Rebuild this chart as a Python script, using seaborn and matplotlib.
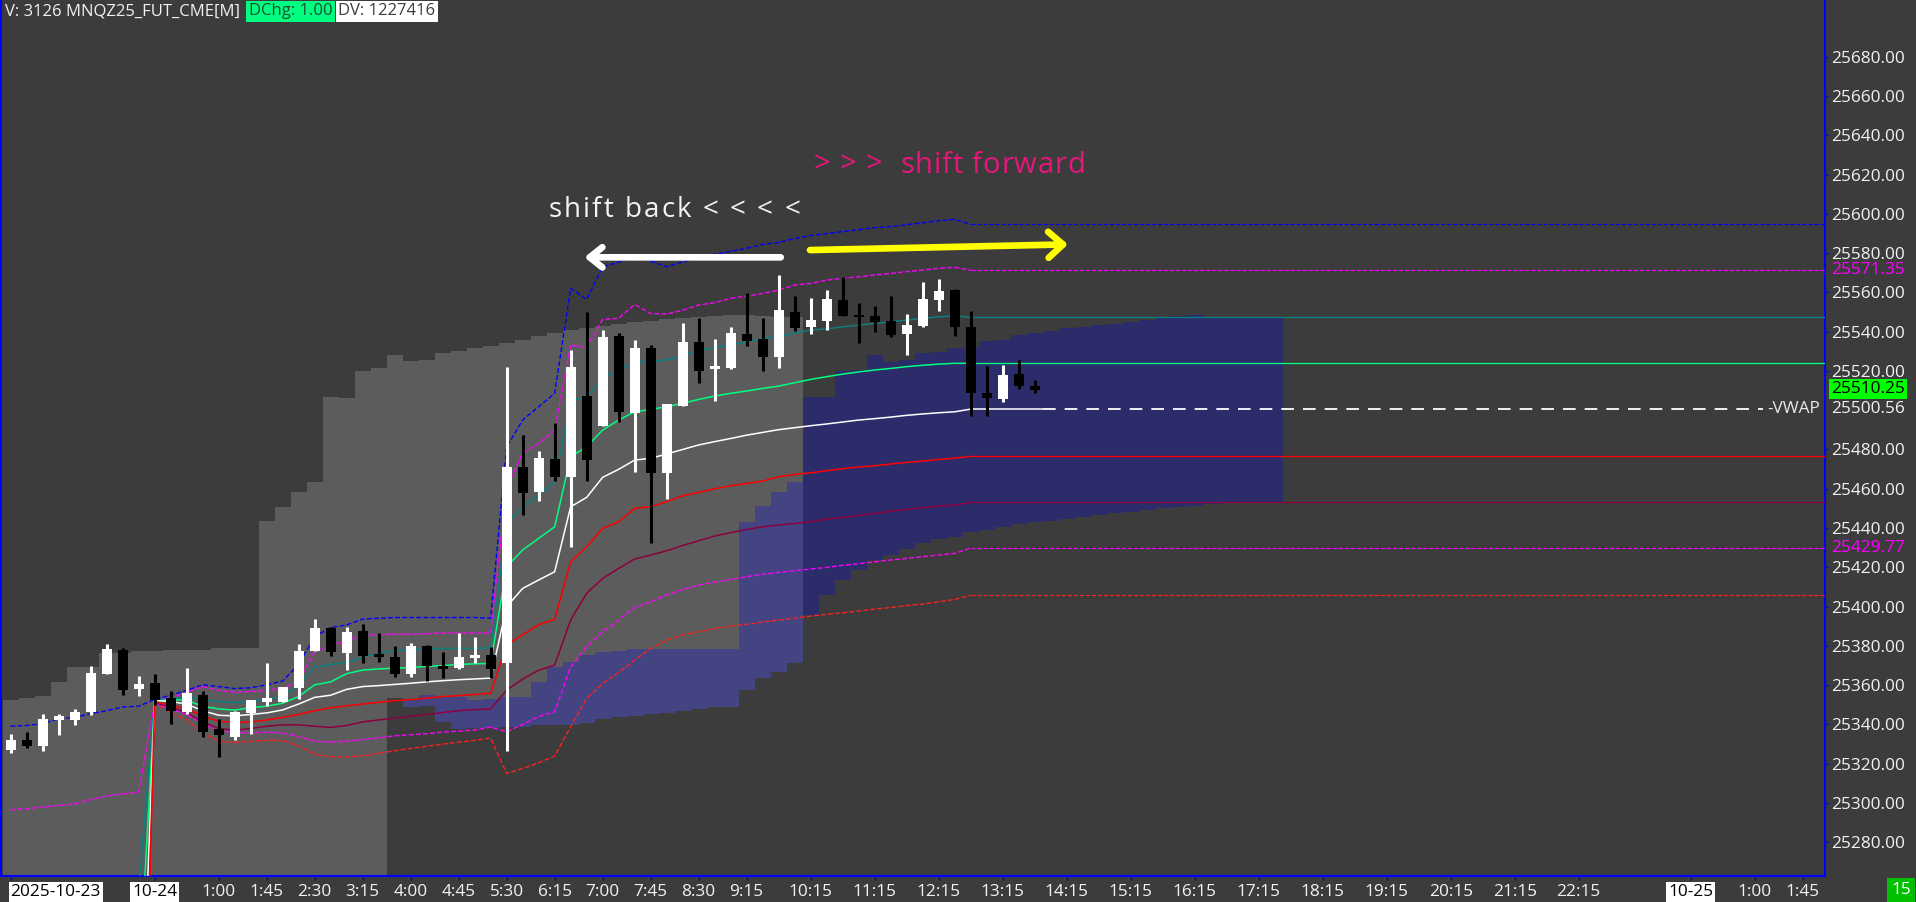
import numpy as np
import matplotlib
matplotlib.use("Agg")
import matplotlib.pyplot as plt
from matplotlib import font_manager
from matplotlib.ft2font import FT2Font
import seaborn as sns

# --- 15 minute bars, index 0 = 21:45 on 2025-10-23 ---
opens = [25327.1, 25331.8, 25329.0, 25342.2, 25342.2, 25346.0, 25365.8, 25378.0, 25357.8, 25361.0,
         25353.5, 25346.5, 25354.8, 25337.5, 25333.7, 25345.6, 25351.6, 25351.6, 25358.6, 25377.4,
         25388.9, 25376.1, 25387.4, 25375.6, 25374.2, 25365.4, 25379.9, 25369.5, 25368.6, 25373.9,
         25375.2, 25371.2, 25471.2, 25458.5, 25475.1, 25466.1, 25507.2, 25492.1, 25537.8, 25498.7,
         25531.5, 25467.8, 25502.3, 25534.9, 25520.8, 25521.7, 25538.8, 25536.3, 25527.3, 25550.2,
         25542.6, 25545.6, 25556.1, 25548.5, 25548.0, 25545.4, 25538.8, 25542.9, 25556.1, 25561.2,
         25542.6, 25508.6, 25505.5, 25518.4, 25512.3]
highs = [25335.2, 25336.0, 25345.4, 25345.4, 25347.9, 25369.5, 25380.8, 25379.0, 25364.8, 25365.8,
         25356.9, 25368.6, 25356.9, 25342.6, 25346.9, 25352.6, 25371.4, 25359.2, 25380.8, 25393.7,
         25389.7, 25389.7, 25391.0, 25386.5, 25379.9, 25381.4, 25380.3, 25376.7, 25386.5, 25384.6,
         25379.3, 25522.2, 25487.4, 25479.2, 25493.3, 25530.7, 25550.2, 25540.9, 25539.5, 25535.8,
         25533.2, 25503.1, 25544.6, 25546.8, 25536.3, 25542.2, 25559.9, 25547.1, 25568.9, 25558.2,
         25557.0, 25561.2, 25568.0, 25554.4, 25553.1, 25558.2, 25549.0, 25565.3, 25566.8, 25561.7,
         25550.5, 25522.5, 25523.0, 25525.6, 25515.4]
lows = [25325.2, 25328.1, 25326.5, 25334.7, 25339.7, 25344.6, 25365.4, 25354.8, 25354.4, 25349.7,
        25340.3, 25345.0, 25333.7, 25323.3, 25331.8, 25335.2, 25349.4, 25351.2, 25352.9, 25377.1,
        25374.8, 25367.6, 25371.4, 25371.8, 25364.3, 25364.3, 25362.0, 25363.5, 25368.2, 25371.4,
        25363.5, 25326.4, 25446.6, 25453.9, 25464.1, 25430.1, 25464.1, 25492.1, 25494.1, 25468.7,
        25432.5, 25454.9, 25502.3, 25513.7, 25504.8, 25521.1, 25532.7, 25520.1, 25521.7, 25540.3,
        25538.6, 25540.9, 25548.0, 25534.4, 25540.0, 25537.5, 25528.1, 25542.6, 25550.7, 25537.8,
        25497.0, 25497.0, 25504.2, 25511.0, 25508.9]
closes = [25331.8, 25329.0, 25342.6, 25344.1, 25346.5, 25366.1, 25378.4, 25357.3, 25360.7, 25352.6,
          25346.9, 25356.0, 25336.0, 25334.7, 25346.0, 25352.2, 25353.5, 25358.8, 25377.4, 25388.9,
          25376.7, 25386.9, 25374.8, 25374.2, 25365.8, 25379.9, 25369.5, 25368.6, 25374.2, 25375.2,
          25368.0, 25471.3, 25458.0, 25475.5, 25466.1, 25522.2, 25474.6, 25537.5, 25499.2, 25531.5,
          25467.8, 25503.1, 25534.9, 25520.1, 25522.5, 25539.2, 25535.3, 25527.3, 25551.0, 25541.7,
          25546.0, 25556.7, 25548.0, 25547.6, 25545.1, 25538.3, 25543.4, 25556.7, 25560.7, 25542.6,
          25508.6, 25506.0, 25517.9, 25512.3, 25510.25]

# --- shaded ranges (one value per bar) ---
GRAY_FIRST_BAR = 0
gray_top = [25352.6, 25353.5, 25354.4, 25361.6, 25369.1, 25369.1, 25376.1, 25376.1, 25377.4, 25377.4,
            25378.0, 25378.0, 25378.0, 25378.9, 25378.9, 25378.9, 25443.4, 25450.9, 25458.3, 25463.4,
            25506.8, 25506.2, 25519.9, 25521.3, 25527.9, 25525.0, 25525.4, 25529.2, 25530.1, 25531.6,
            25532.9, 25534.1, 25535.8, 25537.8, 25539.5, 25540.8, 25541.7, 25542.9, 25543.9, 25545.1,
            25545.6, 25546.3, 25546.8, 25547.3, 25548.0, 25548.5, 25548.3, 25548.0, 25547.6, 25547.6]
# first 24 bars reach below the visible price range
gray_low = [25250.0] * 24 + [
            25353.5, 25348.6, 25349.3, 25341.3, 25337.4, 25337.9, 25337.9, 25338.7, 25338.7, 25339.6,
            25339.6, 25339.6, 25340.4, 25342.5, 25343.5, 25344.2, 25345.2, 25345.9, 25346.9, 25347.6,
            25348.6, 25348.9, 25357.4, 25363.4, 25366.8, 25371.0]

BLUE_FIRST_BAR = 25
blue_top = [25353.0, 25354.9, 25353.7, 25353.7, 25352.3, 25352.7, 25354.0, 25354.0, 25361.7, 25369.3,
            25371.9, 25375.2, 25377.0, 25377.4, 25378.6, 25378.6, 25378.6, 25378.6, 25378.6, 25378.6,
            25378.6, 25443.2, 25451.2, 25458.5, 25463.6, 25506.9, 25506.9, 25520.1, 25520.5, 25528.1,
            25524.7, 25525.6, 25529.0, 25529.8, 25531.5, 25532.4, 25535.4, 25535.8, 25538.3, 25539.2,
            25540.4, 25541.7, 25542.6, 25543.4, 25543.9, 25545.1, 25545.9, 25547.3, 25548.0, 25548.3,
            25547.7, 25547.3, 25547.3, 25547.3, 25547.3]
blue_low = [25348.6, 25349.3, 25341.3, 25337.4, 25337.9, 25337.9, 25338.7, 25338.7, 25339.6, 25339.6,
            25339.6, 25340.4, 25342.5, 25343.5, 25344.2, 25345.2, 25345.9, 25346.9, 25347.6, 25348.6,
            25348.9, 25357.4, 25363.4, 25366.8, 25371.0, 25395.6, 25405.8, 25413.5, 25418.5, 25423.7,
            25426.2, 25429.1, 25432.2, 25434.2, 25435.6, 25438.1, 25439.0, 25440.6, 25442.0, 25443.2,
            25443.7, 25444.4, 25445.4, 25446.4, 25447.4, 25448.3, 25449.1, 25450.0, 25450.8, 25451.2,
            25452.2, 25452.5, 25452.5, 25452.5, 25452.5]

# --- VWAP study lines, bars 9 (10-24 00:00) .. 60, then extended flat ---
SESSION_BAR = 9
teal = [25352.6, 25352.9, 25354.1, 25352.6, 25351.6, 25351.0, 25351.6, 25352.6, 25354.1, 25360.1,
        25369.1, 25370.5, 25371.4, 25374.2, 25376.1, 25377.4, 25378.0, 25378.6, 25378.6, 25378.6,
        25378.6, 25379.0, 25442.3, 25450.8, 25456.8, 25463.6, 25505.2, 25506.5, 25516.2, 25520.5,
        25524.7, 25524.7, 25525.6, 25527.6, 25530.3, 25532.0, 25533.2, 25534.9, 25536.4, 25537.6,
        25539.3, 25540.9, 25541.4, 25542.5, 25543.4, 25544.2, 25545.1, 25545.9, 25546.8, 25547.6,
        25548.1, 25547.3]
green = [25351.6, 25352.6, 25352.2, 25349.2, 25347.8, 25347.2, 25348.4, 25349.2, 25350.7, 25354.1,
         25360.1, 25361.6, 25365.8, 25367.6, 25368.2, 25368.6, 25368.9, 25369.5, 25369.9, 25370.5,
         25370.8, 25371.0, 25420.3, 25428.8, 25434.7, 25440.6, 25476.3, 25481.4, 25489.9, 25495.0,
         25499.2, 25500.4, 25501.8, 25503.5, 25505.5, 25507.2, 25508.6, 25509.8, 25511.1, 25512.3,
         25514.0, 25515.7, 25517.1, 25518.4, 25519.5, 25520.5, 25521.3, 25522.2, 25522.9, 25523.5,
         25523.9, 25523.9]
vwap = [25352.2, 25351.6, 25350.3, 25346.9, 25344.6, 25344.3, 25345.0, 25345.8, 25347.3, 25350.3,
        25353.7, 25354.8, 25357.8, 25359.2, 25359.7, 25360.3, 25360.9, 25361.6, 25362.2, 25362.7,
        25363.1, 25363.5, 25399.9, 25409.2, 25413.5, 25417.7, 25450.8, 25455.6, 25465.8, 25469.9,
        25474.6, 25475.5, 25477.7, 25480.0, 25482.3, 25484.0, 25485.6, 25487.3, 25488.7, 25490.1,
        25491.1, 25492.1, 25493.0, 25494.0, 25495.0, 25495.7, 25496.5, 25497.4, 25498.1, 25498.7,
        25499.2, 25500.56]
red = [25351.6, 25349.7, 25347.8, 25344.1, 25341.6, 25340.9, 25341.2, 25342.2, 25343.5, 25345.0,
       25346.9, 25348.4, 25349.4, 25350.3, 25351.2, 25352.0, 25352.6, 25353.3, 25354.1, 25354.6,
       25355.2, 25355.8, 25380.5, 25385.6, 25390.7, 25393.4, 25422.8, 25430.4, 25439.8, 25443.2,
       25450.0, 25450.8, 25453.4, 25456.4, 25458.1, 25460.0, 25461.5, 25462.7, 25463.9, 25466.1,
       25467.3, 25468.1, 25469.2, 25470.2, 25471.1, 25471.7, 25472.6, 25473.4, 25474.1, 25474.9,
       25475.6, 25476.5]
maroon = [25350.7, 25348.8, 25346.0, 25341.2, 25337.9, 25336.9, 25337.9, 25339.0, 25339.7, 25339.7,
          25339.0, 25338.4, 25339.4, 25341.2, 25342.2, 25343.1, 25344.1, 25345.0, 25346.0, 25346.9,
          25347.5, 25347.8, 25357.5, 25363.0, 25367.5, 25370.2, 25393.1, 25406.7, 25414.3, 25419.4,
          25424.2, 25426.2, 25428.4, 25431.1, 25433.5, 25435.9, 25437.6, 25439.3, 25440.6, 25441.5,
          25442.3, 25443.2, 25444.5, 25445.4, 25446.4, 25447.4, 25448.6, 25449.5, 25450.3, 25451.2,
          25451.7, 25453.0]
mag_upper = [25352.6, 25353.5, 25356.3, 25359.2, 25357.3, 25356.3, 25356.7, 25357.3, 25358.2, 25362.0,
             25377.1, 25379.9, 25382.7, 25385.6, 25385.6, 25385.9, 25385.9, 25386.1, 25386.5, 25386.5,
             25386.5, 25386.5, 25461.0, 25478.0, 25483.1, 25489.9, 25533.2, 25532.0, 25546.3, 25546.8,
             25553.9, 25549.3, 25549.0, 25551.0, 25553.6, 25554.8, 25557.0, 25558.2, 25559.5, 25561.2,
             25563.8, 25564.6, 25566.3, 25567.2, 25568.0, 25568.9, 25569.7, 25570.6, 25571.4, 25572.3,
             25572.8, 25571.35]
red_dash = [25350.7, 25346.0, 25342.2, 25335.6, 25331.4, 25330.7, 25331.3, 25331.8, 25331.8, 25329.0,
            25324.7, 25323.5, 25323.3, 25323.9, 25325.2, 25326.5, 25327.7, 25328.8, 25329.9, 25330.9,
            25331.8, 25333.0, 25314.9, 25317.5, 25320.4, 25323.8, 25338.7, 25353.2, 25360.8, 25366.3,
            25372.7, 25378.6, 25382.9, 25385.5, 25387.1, 25388.8, 25390.0, 25390.9, 25392.1, 25393.1,
            25394.0, 25395.1, 25396.0, 25396.8, 25397.7, 25398.7, 25399.5, 25400.5, 25401.2, 25402.4,
            25403.6, 25405.7]
# these two run from bar 0 (previous session) to bar 60
mag_lower = [25296.4, 25296.9, 25297.9, 25298.6, 25299.4, 25301.6, 25303.5, 25304.5, 25305.4,
             25350.7, 25347.8, 25345.0, 25340.3, 25336.5, 25336.0, 25335.6, 25336.0, 25335.6, 25333.7,
             25331.4, 25330.9, 25331.4, 25332.2, 25333.1, 25334.1, 25334.7, 25335.2, 25336.0, 25336.5,
             25337.1, 25338.5, 25336.2, 25339.9, 25344.0, 25346.4, 25369.3, 25379.5, 25387.1, 25393.1,
             25399.5, 25402.4, 25405.8, 25408.7, 25410.9, 25412.4, 25413.8, 25415.2, 25416.4, 25417.4,
             25418.2, 25419.1, 25419.9, 25421.0, 25421.8, 25422.8, 25423.7, 25424.5, 25425.4, 25426.2,
             25427.1, 25429.77]
blue_dash = [25339.0, 25339.4, 25340.3, 25342.8, 25343.5, 25345.4, 25346.9, 25348.8, 25349.2,
             25352.6, 25354.8, 25357.3, 25360.1, 25359.2, 25358.2, 25358.6, 25360.1, 25362.0, 25370.5,
             25384.6, 25389.3, 25390.6, 25393.6, 25394.0, 25394.4, 25394.4, 25394.4, 25394.4, 25394.4,
             25394.4, 25394.0, 25481.4, 25495.0, 25501.8, 25508.6, 25562.1, 25556.5, 25573.0, 25575.5,
             25578.2, 25576.0, 25573.1, 25575.5, 25578.0, 25579.5, 25581.0, 25582.5, 25584.5, 25585.5,
             25587.5, 25589.0, 25590.0, 25591.0, 25592.0, 25593.0, 25593.5, 25594.5, 25595.5, 25596.5,
             25597.3, 25594.7]
# value on bar 8 that the new-session lines climb from (below the visible range)
rise_from = {'teal': 25255.0, 'green': 25205.0, 'vwap': 25140.0,
             'red': 25055.0, 'maroon': 25080.0, 'red_dash': 25030.0}

# --- axis labels ---
time_ticks = [0, 9, 13, 16, 19, 22, 25, 28, 31, 34, 37, 40, 43, 46, 50, 54, 58, 62, 66, 70,
              74, 78, 82, 86, 90, 94, 98, 105, 109, 112]
time_labels = ['2025-10-23', '10-24', '1:00', '1:45', '2:30', '3:15', '4:00', '4:45', '5:30', '6:15',
               '7:00', '7:45', '8:30', '9:15', '10:15', '11:15', '12:15', '13:15', '14:15', '15:15',
               '16:15', '17:15', '18:15', '19:15', '20:15', '21:15', '22:15', '10-25', '1:00', '1:45']
price_ticks = [25280, 25300, 25320, 25340, 25360, 25380, 25400, 25420, 25440, 25460, 25480,
               25520, 25540, 25560, 25580, 25600, 25620, 25640, 25660, 25680]

BG = '#3c3c3c'
AXIS_BLUE = '#0000ff'
TXT = '#f2f2f2'
X_LEFT, X_RIGHT = -0.6, 113.39
Y_LOW, Y_HIGH = 25262.7, 25709.0
FONT = 'Open Sans'

sns.set_theme(style="dark", rc={"axes.facecolor": BG, "figure.facecolor": BG, "axes.grid": False})
plt.rcParams['font.family'] = [FONT, 'DejaVu Sans']

fig = plt.figure(figsize=(19.16, 9.02), dpi=100, facecolor=BG)
ax = fig.add_axes([1 / 1916, 26 / 902, 1824 / 1916, 876 / 902])
ax.set_facecolor(BG)


def band(first_bar, top, low, **kw):
    edges = np.arange(first_bar, first_bar + len(top) + 1) - 0.5
    ax.fill_between(edges, np.append(low, low[-1]), np.append(top, top[-1]),
                    step='post', lw=0, **kw)


band(GRAY_FIRST_BAR, gray_top, gray_low, color='#5c5c5c', zorder=1)
band(BLUE_FIRST_BAR, blue_top, blue_low, color='#0000f8', alpha=0.25, zorder=1.5)

DASH = (0, (3.5, 1.6))


def study_line(first_bar, ys, color, ls='-', lw=1.1, start=None, extend=True):
    xs = list(range(first_bar, first_bar + len(ys)))
    ys = list(ys)
    if start is not None:
        xs = [first_bar - 1] + xs
        ys = [start] + ys
    sns.lineplot(x=xs, y=ys, ax=ax, color=color, linestyle=ls, linewidth=lw,
                 estimator=None, sort=False, legend=False, zorder=3)
    if extend:
        ax.hlines(ys[-1], xs[-1], X_RIGHT, colors=color, linestyles=ls, lw=lw * 0.85, zorder=3)


study_line(0, blue_dash, '#0000ff', ls=DASH, lw=1.0)
study_line(SESSION_BAR, mag_upper, '#ff00ff', ls=DASH, lw=1.0)
study_line(SESSION_BAR, teal, '#0a8080', start=rise_from['teal'])
study_line(SESSION_BAR, green, '#00ff80', start=rise_from['green'])
study_line(SESSION_BAR, maroon, '#8c0040', start=rise_from['maroon'])
study_line(0, mag_lower, '#ff00ff', ls=DASH, lw=1.0)
study_line(SESSION_BAR, red_dash, '#ff2020', ls=DASH, lw=1.0, start=rise_from['red_dash'])
study_line(SESSION_BAR, vwap, '#ffffff', start=rise_from['vwap'], extend=False)
study_line(SESSION_BAR, red, '#ff0000', start=rise_from['red'])

last_bar = len(closes) - 1
vwap_end = SESSION_BAR + len(vwap) - 1
ax.hlines(vwap[-1], vwap_end, last_bar + 0.5, colors='#ffffff', lw=1.1, zorder=3)
ax.hlines(vwap[-1], last_bar + 0.5, 109.5, colors='#ffffff', linestyles=(0, (7, 5)), lw=1.3, zorder=3)

# --- candles ---
o, h, l, c = (np.array(v) for v in (opens, highs, lows, closes))
idx = np.arange(len(o))
cols = np.where(c >= o, '#ffffff', '#000000')
MIN_BODY = 1.4
body_h = np.maximum(np.abs(c - o), MIN_BODY)
body_lo = np.where(np.abs(c - o) < MIN_BODY, (o + c) / 2 - MIN_BODY / 2, np.minimum(o, c))
ax.vlines(idx, l, h, colors=cols, lw=2.2, zorder=6)
ax.bar(idx, body_h, bottom=body_lo, width=0.62, color=cols, lw=0, zorder=7)


# --- hand-drawn notes on the chart (text is letter-spaced like the platform draws it) ---
def tracked_text(x, y, s, size, color, tracking):
    ft = FT2Font(font_manager.findfont(font_manager.FontProperties(family=FONT)))
    ft.set_size(size, 72)
    offset = 0.0
    for ch in s:
        if ch != ' ':
            ax.annotate(ch, xy=(x, y), xytext=(offset, 0), textcoords='offset points',
                        fontsize=size, color=color, ha='left', va='baseline', zorder=9,
                        annotation_clip=False)
        g = ft.load_char(ord(ch))
        adv = getattr(g, 'linearHoriAdvance', None)
        adv = adv / 65536 if adv is not None else g.horiAdvance / 64
        offset += adv + tracking


ax.annotate('', xy=(35.86, 25577.9), xytext=(48.13, 25577.9), zorder=9,
            arrowprops=dict(arrowstyle='->,head_length=0.65,head_width=0.52', color='#ffffff',
                            lw=4.8, mutation_scale=14, shrinkA=0, shrinkB=0,
                            capstyle='round', joinstyle='round'))
ax.annotate('', xy=(66.08, 25584.5), xytext=(49.96, 25581.6), zorder=9,
            arrowprops=dict(arrowstyle='->,head_length=0.75,head_width=0.67', color='#ffff00',
                            lw=4.8, mutation_scale=14, shrinkA=0, shrinkB=0,
                            capstyle='round', joinstyle='round'))
tracked_text(33.6, 25598.4, 'shift back < < < <', 20, '#f4f4f4', 1.5)
tracked_text(50.2, 25621.0, '> > >  shift forward', 21, '#e8157a', 0.6)

# --- axes ---
ax.set_xlim(X_LEFT, X_RIGHT)
ax.set_ylim(Y_LOW, Y_HIGH)
ax.set_xlabel('')
ax.set_ylabel('')
for side in ['left', 'right', 'bottom']:
    ax.spines[side].set_visible(True)
    ax.spines[side].set_color(AXIS_BLUE)
    ax.spines[side].set_linewidth(1.5)
ax.spines['top'].set_visible(False)

ax.yaxis.tick_right()
ax.set_yticks(price_ticks)
ax.set_yticklabels([f'{p:.2f}' for p in price_ticks])
ax.tick_params(axis='y', right=True, left=False, length=2.5, width=1, color=AXIS_BLUE,
               labelcolor=TXT, labelsize=12.4, pad=2)
ax.set_xticks(time_ticks)
ax.set_xticklabels(time_labels)
ax.tick_params(axis='x', bottom=True, length=3, width=1, color=AXIS_BLUE,
               labelcolor=TXT, labelsize=12.4, pad=2.5)
for lbl in ax.get_xticklabels():
    if '-' in lbl.get_text():
        lbl.set_color('#000000')
        lbl.set_bbox(dict(facecolor='#ffffff', edgecolor='none', boxstyle='square,pad=0.12'))
ax.get_xticklabels()[0].set_horizontalalignment('left')

# price labels on the scale
ytr = ax.get_yaxis_transform()
LBL_X = 1.0031
lbl_kw = dict(transform=ytr, ha='left', va='center', fontsize=12.4, clip_on=False, zorder=10)
ax.text(LBL_X, mag_upper[-1], f'{mag_upper[-1]:.2f}', color='#ff00ff', **lbl_kw)
ax.text(LBL_X, mag_lower[-1], f'{mag_lower[-1]:.2f}', color='#ff00ff', **lbl_kw)
ax.text(LBL_X, vwap[-1], f'{vwap[-1]:.2f}', color=TXT, **lbl_kw)
ax.text(LBL_X, closes[-1] + 0.6, f'{closes[-1]:.2f}', color='#000000',
        bbox=dict(facecolor='#00ff00', edgecolor='none', boxstyle='square,pad=0.12'), **lbl_kw)
ax.text(0.9973, vwap[-1], '-VWAP', transform=ytr, ha='right', va='center', fontsize=12.4,
        color='#e8e8e8', zorder=10)

# --- header and corner box ---
fig.text(5 / 1916, 1 - 11 / 902, 'V: 3126 MNQZ25_FUT_CME[M]', color=TXT, fontsize=12, va='center')
fig.text(249 / 1916, 1 - 11 / 902, 'DChg: 1.00', color='#1b4d33', fontsize=12, va='center',
         bbox=dict(facecolor='#00ff80', edgecolor='none', boxstyle='square,pad=0.15'))
fig.text(338 / 1916, 1 - 11 / 902, 'DV: 1227416', color='#3c3c3c', fontsize=12, va='center',
         bbox=dict(facecolor='#ffffff', edgecolor='none', boxstyle='square,pad=0.15'))
fig.text(1901 / 1916, 1 - 890 / 902, '15', color='#ffffff', fontsize=12.4, ha='center', va='center',
         bbox=dict(facecolor='#00c000', edgecolor='none', boxstyle='square,pad=0.25'))

fig.savefig('out.png', dpi=100, facecolor=BG)
